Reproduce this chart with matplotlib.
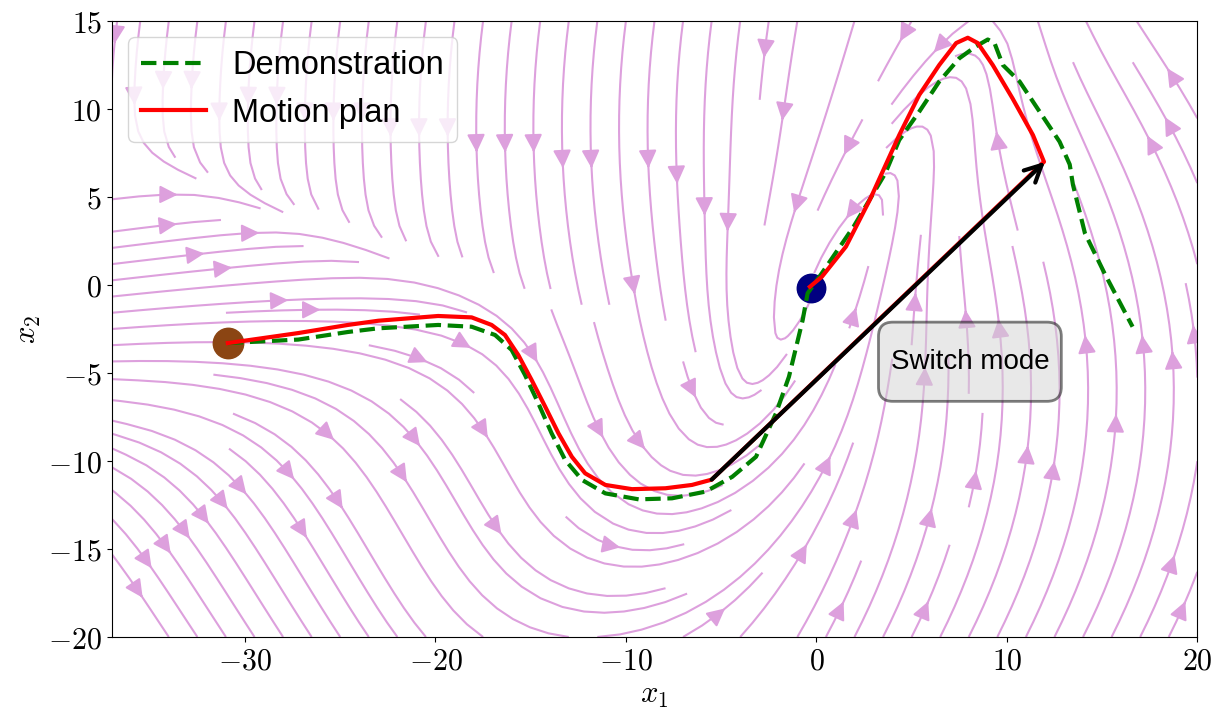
import numpy as np
import matplotlib
matplotlib.use("Agg")
import matplotlib.pyplot as plt
from matplotlib.patches import FancyBboxPatch

plt.rcParams['mathtext.fontset'] = 'cm'

# ---- data ----
start_pt = (-30.9, -3.3)
goal_pt = (-0.28, -0.15)

demo_x = [-30.9, -27.2, -24.6, -23.0, -19.86, -18.1, -16.87, -16.0, -15.3, -14.6, -13.9, -13.19,
          -12.3, -11.08, -9.33, -7.58, -5.82, -4.42, -3.17, -2.12, -1.44, -0.72, -0.46, 0.28,
          1.95, 3.62, 4.35, 5.4, 6.45, 7.5, 8.39, 9.0, 9.35, 9.79, 10.67, 11.72, 12.77, 13.3,
          13.47, 14.1, 15.13, 16.6]
demo_y = [-3.3, -3.1, -2.67, -2.46, -2.27, -2.37, -2.84, -3.69, -5.11, -6.72, -8.43, -9.94,
          -11.08, -11.84, -12.18, -12.12, -11.74, -10.9, -9.76, -7.29, -5.21, -1.99, -0.47, 0.66,
          3.31, 6.35, 8.24, 9.85, 11.56, 12.88, 13.57, 13.95, 13.75, 12.5, 11.56, 9.85, 8.14, 6.85,
          5.7, 2.94, 0.66, -2.37]

plan_x = [-30.9, -27.2, -24.6, -23.0, -19.86, -18.1, -17.05, -16.35, -15.65, -14.95, -14.24,
          -13.54, -12.84, -12.14, -11.08, -9.68, -7.93, -6.53, -5.5, 11.95, 11.37, 10.3, 9.26,
          8.47, 7.95, 7.34, 6.45, 5.4, 4.35, 2.8, 1.55, 0.29, -0.34]
plan_y = [-3.3, -2.73, -2.27, -2.03, -1.76, -1.84, -2.27, -2.84, -3.98, -5.4, -6.91,
          -8.43, -9.76, -10.7, -11.36, -11.6, -11.55, -11.36, -11.06, 7.0, 8.52, 10.6, 12.5,
          13.75, 14.05, 13.75, 12.5, 10.8, 8.52, 4.83, 2.18, 0.47, -0.1]

switch_from = (-5.5, -11.06)
switch_to = (12.0, 7.0)

xticks = [-30, -20, -10, 0, 10, 20]
yticks = [-20, -15, -10, -5, 0, 5, 10, 15]


def sig(z):
    return 1.0 / (1.0 + np.exp(-z))


def field(X, Y):
    g = 0.6 * Y
    Xa = X - g
    W = 2.5 + 2.0 * sig(-(Y + 12) / 2.0)
    v = np.tanh(Xa / W)
    wr = (1 + v) / 2
    ur = -(Y + 6) / 30.0
    ul = -(Y - 9) / 50.0
    axis_term = v * 0.6 * np.exp(-(Xa / 6.0) ** 2) * (wr + (1 - wr) * sig(Y / 2.0))
    rot = -(Y + 1) / 14.0 * np.exp(-(Xa / 6.0) ** 2) * sig(-(Y + 8) / 2.0)
    u = wr * ur + (1 - wr) * ul + axis_term + rot
    # inflow band on the left
    C = -1 - 0.42 * (X + 15)
    Lb = -4 + 0.3 * (X + 15)
    B = sig((C - Y) / 0.8) * sig((Y - Lb) / 3.0) * sig(-(X + 15) / 1.5)
    u = u * (1 - B) + 1.0 * B
    v = v * (1 - B) + 0.15 * B
    return u, v


fig = plt.figure(figsize=(12.23, 7.25), dpi=100)
ax = fig.add_axes([0.0913, 0.1214, 0.979 - 0.0913, 0.971 - 0.1214])

gx = np.linspace(-37, 20, 220)
gy = np.linspace(-20, 15, 220)
GX, GY = np.meshgrid(gx, gy)
U, V = field(GX, GY)
ax.streamplot(gx, gy, U, V, density=1.3, color='plum', linewidth=1.5,
              arrowsize=2.7, arrowstyle='-|>', zorder=1)

ax.scatter([start_pt[0]], [start_pt[1]], s=480, color='saddlebrown', zorder=3)
ax.scatter([goal_pt[0]], [goal_pt[1]], s=420, color='navy', zorder=3)

ax.plot(demo_x, demo_y, '--', color='green', lw=3, label='Demonstration', zorder=4)
ax.plot(plan_x, plan_y, '-', color='red', lw=3, label='Motion plan', zorder=5)

ax.annotate('', xy=switch_to, xytext=switch_from,
            arrowprops=dict(arrowstyle='->', color='black', lw=3, mutation_scale=30,
                            shrinkA=0, shrinkB=0), zorder=6)

box = FancyBboxPatch((3.26, -6.61), 12.86 - 3.26, 6.61 - 2.11,
                     boxstyle='round,pad=0,rounding_size=0.75', mutation_aspect=19 / 17.6,
                     facecolor='lightgray', edgecolor='black', alpha=0.5, lw=2, zorder=7)
ax.add_patch(box)
ax.text(8.06, -4.35, 'Switch mode', fontsize=20, family='Liberation Sans',
        ha='center', va='center', zorder=8)

ax.set_xlim(-37, 20)
ax.set_ylim(-20, 15)
ax.set_xticks(xticks)
ax.set_xticklabels([r'$%d$' % t for t in xticks])
ax.set_yticks(yticks)
ax.set_yticklabels([r'$%d$' % t for t in yticks])
ax.tick_params(labelsize=21.5)
ax.set_xlabel(r'$x_1$', fontsize=22)
ax.set_ylabel(r'$x_2$', fontsize=22)

leg = ax.legend(loc='upper left', prop={'family': 'Liberation Sans', 'size': 23.5})

fig.savefig('out.png', dpi=100)
